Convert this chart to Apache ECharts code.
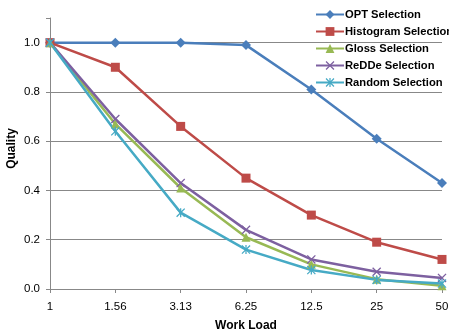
<!DOCTYPE html>
<html>
<head>
<meta charset="utf-8">
<script src="https://cdn.jsdelivr.net/npm/echarts@6/dist/echarts.min.js"></script>
<style>
html,body{margin:0;padding:0;background:#fff;}
#main{width:449px;height:330px;}
</style>
</head>
<body>
<div id="main"></div>
<script>
// categories (work load) and quality values
var workLoad = ['1', '1.56', '3.13', '6.25', '12.5', '25', '50'];
var optSel = [1.0, 1.0, 1.0, 0.99, 0.81, 0.61, 0.43];
var histSel = [1.0, 0.90, 0.66, 0.45, 0.30, 0.19, 0.12];
var glossSel = [1.0, 0.67, 0.41, 0.21, 0.10, 0.04, 0.013];
var reddeSel = [1.0, 0.69, 0.43, 0.24, 0.12, 0.07, 0.045];
var randSel = [1.0, 0.64, 0.31, 0.16, 0.077, 0.037, 0.022];
var yTicks = [0, 0.2, 0.4, 0.6, 0.8, 1.0];

var font = 'Liberation Sans';
// X and asterisk markers as filled polygons
var xMark = 'path://M1,0L5,4L9,0L10,1L6,5L10,9L9,10L5,6L1,10L0,9L4,5L0,1Z';
var starMark = 'path://M1,0L4.3,3.3L4.3,0L5.7,0L5.7,3.3L9,0L10,1L6.4,4.6L6.4,5.4L10,9L9,10L5.7,6.7L5.7,10L4.3,10L4.3,6.7L1,10L0,9L3.6,5.4L3.6,4.6L0,1Z';

var myChart = echarts.init(document.getElementById('main'));

function makeSeries(name, data, color, symbol, size){
	return {
		name: name,
		type: 'line',
		data: data,
		symbol: symbol,
		symbolSize: size,
		showAllSymbol: true,
		lineStyle: {color: color, width: 2.5},
		itemStyle: {color: color},
		emphasis: {disabled: true}
	};
}

var option = {
	animation: false,
	grid: {left: 50, right: 7, top: 18, bottom: 41, outerBoundsMode: 'none'},
	legend: {
		orient: 'vertical',
		left: 310,
		top: 4,
		itemGap: 6,
		itemWidth: 28,
		itemHeight: 11,
		textStyle: {fontFamily: font, fontWeight: 'bold', fontSize: 11.2, color: '#000', padding: [0, 0, 0, -4]},
		data: ['OPT Selection', 'Histogram Selection', 'Gloss Selection', 'ReDDe Selection', 'Random Selection']
	},
	xAxis: {
		type: 'category',
		boundaryGap: false,
		data: workLoad,
		name: 'Work Load',
		nameLocation: 'middle',
		nameGap: 31,
		nameMoveOverlap: false,
		nameTextStyle: {fontFamily: font, fontWeight: 'bold', fontSize: 12, color: '#000'},
		axisLine: {lineStyle: {color: '#888', width: 1}},
		axisTick: {show: true, alignWithLabel: true, length: 4, lineStyle: {color: '#888'}},
		axisLabel: {fontFamily: font, fontSize: 11.5, color: '#000', margin: 12}
	},
	yAxis: {
		type: 'value',
		min: 0,
		max: 1.1,
		interval: 0.2,
		name: 'Quality',
		nameLocation: 'middle',
		nameGap: 32,
		nameMoveOverlap: false,
		nameRotate: 90,
		nameTextStyle: {fontFamily: font, fontWeight: 'bold', fontSize: 12, color: '#000', padding: [0, 0, 0, 10]},
		axisLine: {show: true, lineStyle: {color: '#888', width: 1}},
		axisTick: {show: true, length: 4, lineStyle: {color: '#888'}},
		axisLabel: {
			fontFamily: font, fontSize: 11.5, color: '#000', margin: 10,
			formatter: function(v){
				for(var i = 0; i < yTicks.length; i++){
					if(Math.abs(v - yTicks[i]) < 1e-6) return v.toFixed(1);
				}
				return '';
			}
		},
		splitLine: {show: true, showMaxLine: false, lineStyle: {color: '#888', width: 1}}
	},
	series: [
		makeSeries('OPT Selection', optSel, '#4A7EBB', 'diamond', 10),
		makeSeries('Histogram Selection', histSel, '#BE4B48', 'rect', 9),
		makeSeries('Gloss Selection', glossSel, '#98B954', 'triangle', 9),
		makeSeries('ReDDe Selection', reddeSel, '#7D60A0', xMark, 9),
		makeSeries('Random Selection', randSel, '#46AAC5', starMark, 9)
	]
};
myChart.setOption(option);
</script>
</body>
</html>
